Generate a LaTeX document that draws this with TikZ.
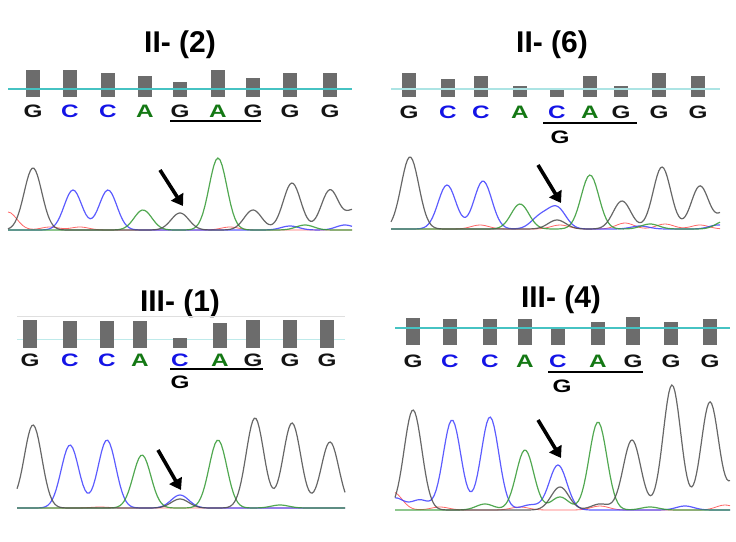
\documentclass[tikz,border=0pt]{standalone}
\usepackage{fontspec}
\setmainfont{Liberation Sans}
\usetikzlibrary{arrows.meta}
\begin{document}
\begin{tikzpicture}[x=1pt,y=-1pt,
  declare function={pk(\x,\c,\h)=\h*exp(-min(((\x-\c)/12.5)^2,30));},
  ttl/.style={font=\fontsize{30}{30}\selectfont\bfseries},
  bs/.style={font=\fontsize{18}{18}\selectfont\bfseries, xscale=1.35, inner sep=0pt},
  bar/.style={fill=gray!85!black, draw=none},
  tk/.style={line width=1.2pt, opacity=0.85},
  tkB/.style={tk, draw=black!70},
  tkC/.style={tk, draw=blue!75},
  tkG/.style={tk, draw=green!50!black!80},
  tkR/.style={tk, draw=red!70, line width=0.8pt},
  arr/.style={line width=3.6pt, -{Triangle[length=11pt,width=14pt]}},
  teal/.style={draw=tealc, line width=1.8pt}
]
\definecolor{tealc}{RGB}{70,195,195}
\useasboundingbox (0,0) rectangle (736,541);
\definecolor{cB}{RGB}{20,20,20}\definecolor{cC}{RGB}{20,20,230}\definecolor{cA}{RGB}{20,120,20}
% ===== TL =====
\node[ttl] (t1) at (180,45) {II- (2)};
\foreach \xx/\tp in {33/70,70/70,108/73,145/76,180/82,218/70,253/78,290/73,330/73}
  \fill[bar] (\xx-7,\tp) rectangle (\xx+7,97);
\draw[teal] (8,89) -- (352,89);
\foreach \xx/\l/\c [count=\i] in {33/G/cB,70/C/cC,108/C/cC,145/A/cA,180/G/cB,218/A/cA,253/G/cB,290/G/cB,330/G/cB}
  \node[bs,text=\c] (a\i) at (\xx,111) {\l};
\draw[line width=1.8pt] (170,121) -- (261,121);
\draw[tkR,domain=8:352,samples=120] plot ({\x},{230-pk(\x,8,18)-pk(\x,50,3)-pk(\x,80,3)-pk(\x,230,3)});
\draw[tkC,domain=8:352,samples=160] plot ({\x},{230-pk(\x,73,40)-pk(\x,108,40)-pk(\x,290,4)-pk(\x,345,5)});
\draw[tkG,domain=8:352,samples=160] plot ({\x},{230-pk(\x,143,20)-pk(\x,218,72)-pk(\x,305,5)});
\draw[tkB,domain=8:352,samples=200] plot ({\x},{230-pk(\x,33,62)-pk(\x,180,17)-pk(\x,253,20)-pk(\x,292,47)-pk(\x,330,40)-pk(\x,355,20)});
\coordinate (p1s) at (160,170); \coordinate (p1e) at (183,206);
\draw[arr] (p1s) -- (p1e);
% ===== TR =====
\node[ttl] (t2) at (552,45) {II- (6)};
\foreach \xx/\tp in {409/73,448/79,481/76,520/86,557/88,590/76,621/86,659/73,698/76}
  \fill[bar] (\xx-7,\tp) rectangle (\xx+7,97);
\draw[teal,draw=tealc!45] (391,89) -- (720,89);
\foreach \xx/\l/\c [count=\i] in {409/G/cB,448/C/cC,481/C/cC,520/A/cA,557/C/cC,590/A/cA,621/G/cB,659/G/cB,698/G/cB}
  \node[bs,text=\c] (b\i) at (\xx,112) {\l};
\node[bs] (b10) at (560,137) {G};
\draw[line width=1.8pt] (543,123) -- (637,123);
\draw[tkR,domain=391:720,samples=120] plot ({\x},{229-pk(\x,480,4)-pk(\x,560,4)-pk(\x,625,6)-pk(\x,665,5)-pk(\x,700,4)});
\draw[tkC,domain=391:720,samples=160] plot ({\x},{229-pk(\x,447,44)-pk(\x,483,48)-pk(\x,540,12)-pk(\x,557,21)-pk(\x,640,3)-pk(\x,718,4)});
\draw[tkG,domain=391:720,samples=160] plot ({\x},{229-pk(\x,520,25)-pk(\x,590,54)-pk(\x,650,5)-pk(\x,725,8)});
\draw[tkB,domain=391:720,samples=200] plot ({\x},{229-pk(\x,410,72)-pk(\x,557,9)-pk(\x,622,28)-pk(\x,662,62)-pk(\x,700,43)-pk(\x,728,20)});
\coordinate (p2s) at (538,165); \coordinate (p2e) at (561,203);
\draw[arr] (p2s) -- (p2e);
% ===== BL =====
\node[ttl] (t3) at (180,304) {III- (1)};
\draw[gray!25,line width=1pt] (17,316) -- (345,316);
\draw[tealc!35,line width=1pt] (17,339) -- (345,339);
\foreach \xx/\tp in {30/320,70/321,107/321,140/321,180/338,220/323,253/320,290/320,327/320}
  \fill[bar] (\xx-7,\tp) rectangle (\xx+7,348);
\foreach \xx/\l/\c [count=\i] in {30/G/cB,70/C/cC,107/C/cC,140/A/cA,180/C/cC,220/A/cA,253/G/cB,290/G/cB,327/G/cB}
  \node[bs,text=\c] (c\i) at (\xx,360) {\l};
\node[bs] (c10) at (180,382) {G};
\draw[line width=1.8pt] (170,369) -- (263,369);
\draw[tkR,domain=17:345,samples=60] plot ({\x},{508-pk(\x,100,1)});
\draw[tkC,domain=17:345,samples=160] plot ({\x},{508-pk(\x,70,63)-pk(\x,107,68)-pk(\x,180,13)});
\draw[tkG,domain=17:345,samples=160] plot ({\x},{508-pk(\x,142,53)-pk(\x,218,68)-pk(\x,280,3)});
\draw[tkB,domain=17:345,samples=200] plot ({\x},{508-pk(\x,33,83)-pk(\x,180,9)-pk(\x,255,90)-pk(\x,292,85)-pk(\x,330,66)-pk(\x,0,20)});
\coordinate (p3s) at (158,450); \coordinate (p3e) at (181,490);
\draw[arr] (p3s) -- (p3e);
% ===== BR =====
\node[ttl] (t4) at (561,300) {III- (4)};
\foreach \xx/\tp in {413/318,450/319,490/319,525/319,558/327,598/322,633/317,671/322,710/319}
  \fill[bar] (\xx-7,\tp) rectangle (\xx+7,345);
\draw[teal] (395,328) -- (730,328);
\foreach \xx/\l/\c [count=\i] in {413/G/cB,450/C/cC,490/C/cC,525/A/cA,558/C/cC,598/A/cA,633/G/cB,671/G/cB,710/G/cB}
  \node[bs,text=\c] (d\i) at (\xx,361) {\l};
\node[bs] (d10) at (562,386) {G};
\draw[line width=1.8pt] (548,372) -- (643,372);
\draw[tkR,domain=395:730,samples=120] plot ({\x},{510-pk(\x,393,18)-pk(\x,440,3)-pk(\x,520,3)-pk(\x,600,4)-pk(\x,725,5)});
\draw[tkC,domain=395:730,samples=180] plot ({\x},{510-pk(\x,395,12)-pk(\x,420,10)-pk(\x,452,90)-pk(\x,490,93)-pk(\x,530,5)-pk(\x,558,45)-pk(\x,685,4)});
\draw[tkG,domain=395:730,samples=180] plot ({\x},{510-pk(\x,485,6)-pk(\x,525,60)-pk(\x,560,13)-pk(\x,598,88)-pk(\x,650,3)});
\draw[tkB,domain=395:730,samples=220] plot ({\x},{510-pk(\x,413,100)-pk(\x,560,23)-pk(\x,600,6)-pk(\x,632,70)-pk(\x,672,125)-pk(\x,710,108)-pk(\x,740,40)});
\coordinate (p4s) at (538,420); \coordinate (p4e) at (561,458);
\draw[arr] (p4s) -- (p4e);
\end{tikzpicture}
\end{document}
